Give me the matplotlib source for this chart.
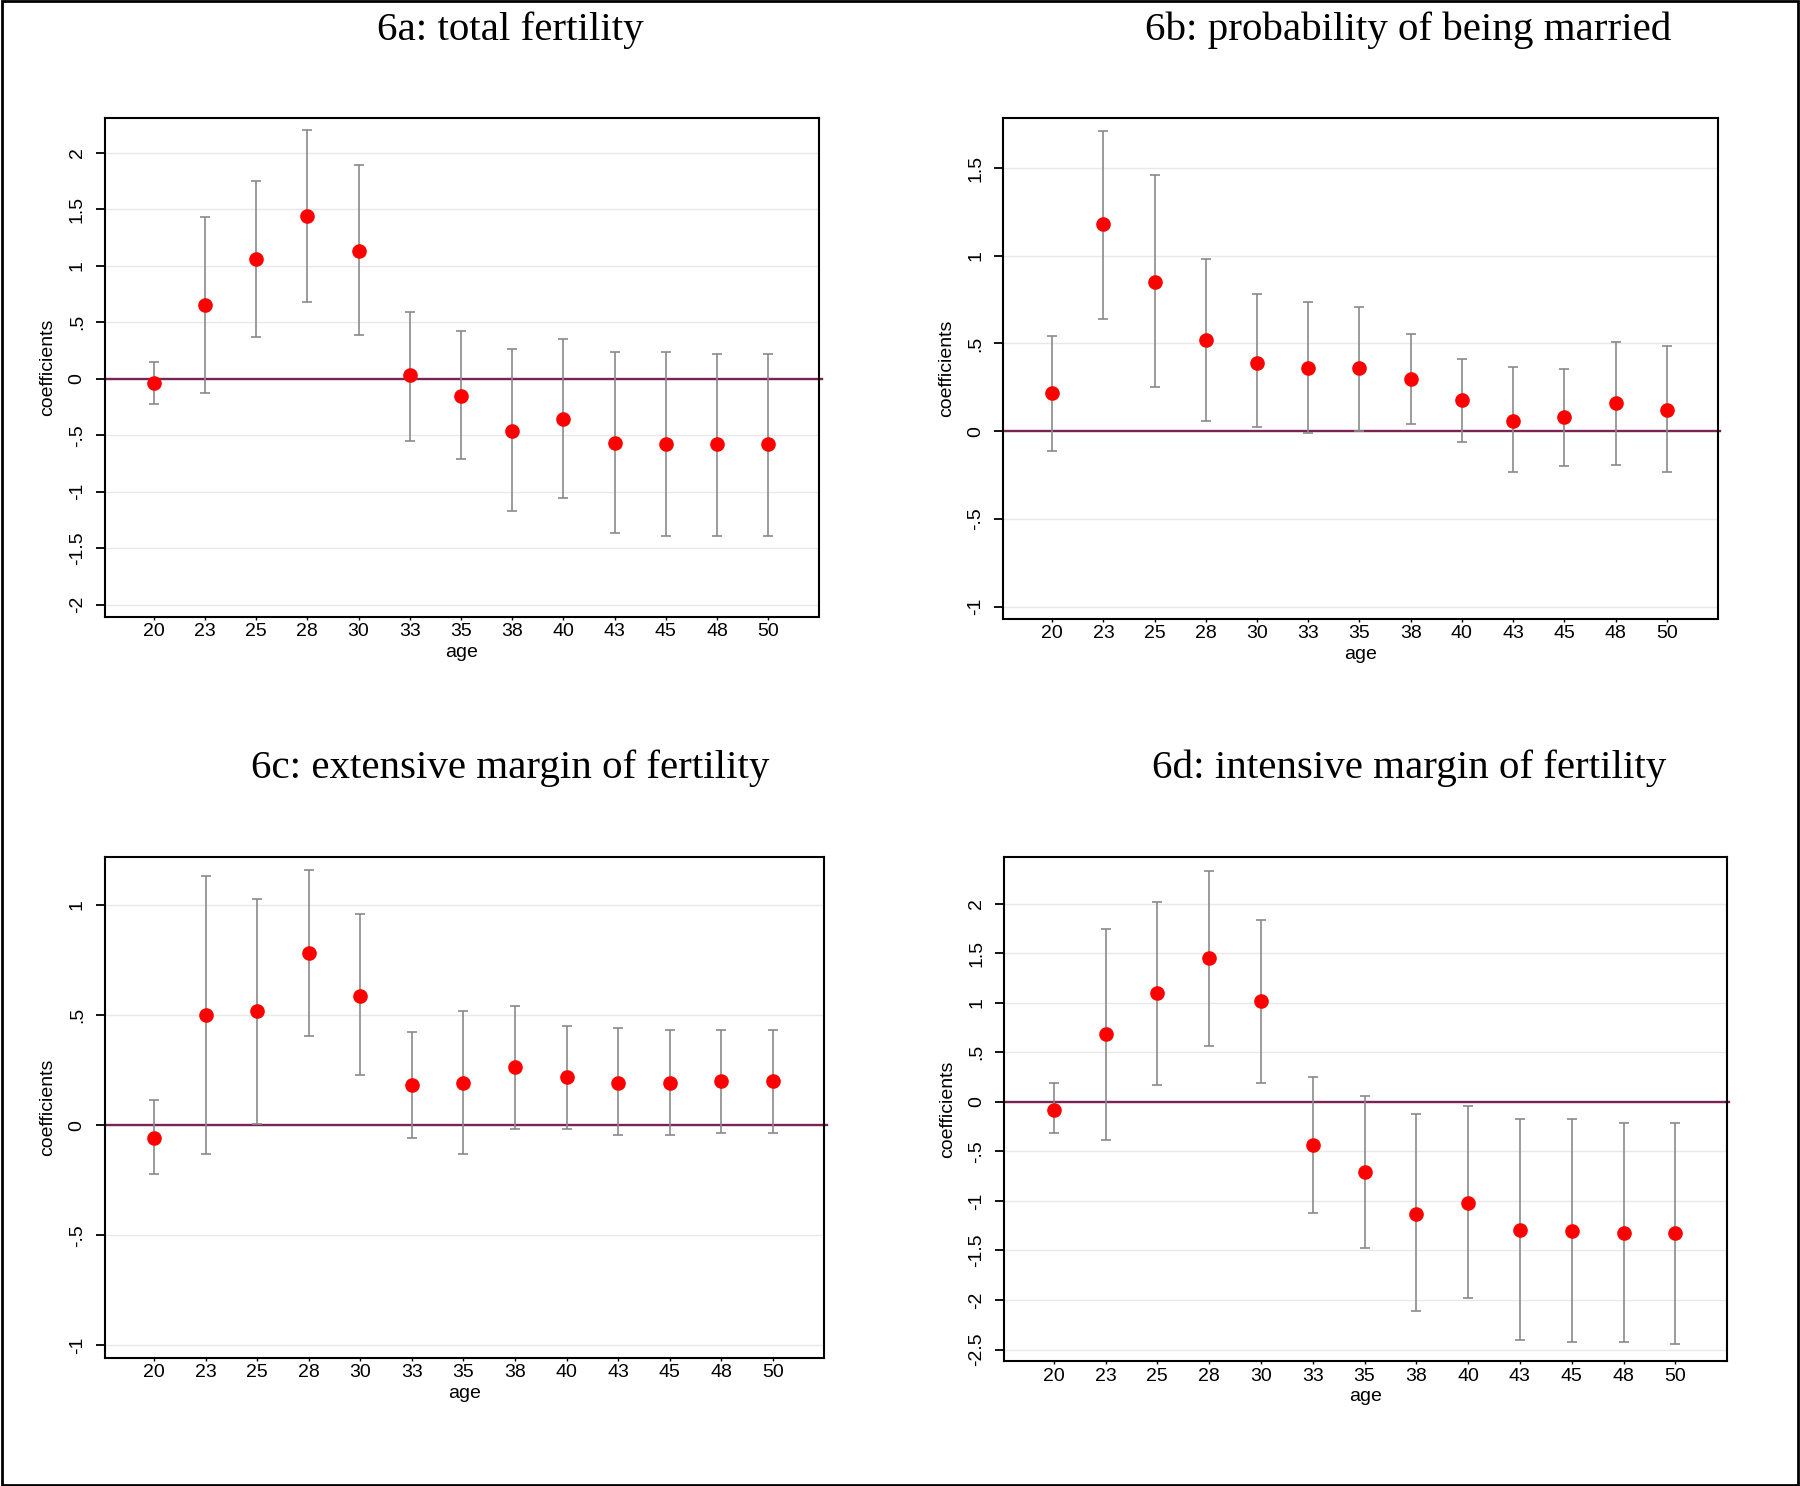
import numpy as np
import matplotlib
matplotlib.use('Agg')
import matplotlib.pyplot as plt
from matplotlib.patches import Rectangle
from matplotlib.ticker import FixedLocator, FuncFormatter

# ages on the x axis (equally spaced categories)
ages = ['20', '23', '25', '28', '30', '33', '35', '38', '40', '43', '45', '48', '50']

# 6a: total fertility
coef_a = [-0.04, 0.65, 1.06, 1.44, 1.13, 0.03, -0.15, -0.46, -0.36, -0.57, -0.58, -0.58, -0.58]
lo_a = [-0.22, -0.13, 0.37, 0.68, 0.39, -0.55, -0.71, -1.17, -1.06, -1.37, -1.39, -1.39, -1.39]
hi_a = [0.15, 1.43, 1.75, 2.20, 1.89, 0.59, 0.42, 0.26, 0.35, 0.24, 0.24, 0.22, 0.22]

# 6b: probability of being married
coef_b = [0.22, 1.18, 0.85, 0.52, 0.39, 0.36, 0.36, 0.30, 0.18, 0.06, 0.08, 0.16, 0.12]
lo_b = [-0.11, 0.64, 0.25, 0.06, 0.025, -0.01, 0.0, 0.04, -0.06, -0.23, -0.20, -0.19, -0.23]
hi_b = [0.545, 1.71, 1.46, 0.98, 0.78, 0.735, 0.71, 0.555, 0.41, 0.366, 0.356, 0.506, 0.486]

# 6c: extensive margin of fertility
coef_c = [-0.06, 0.50, 0.52, 0.78, 0.585, 0.184, 0.193, 0.264, 0.217, 0.193, 0.193, 0.20, 0.20]
lo_c = [-0.224, -0.129, 0.004, 0.404, 0.226, -0.058, -0.129, -0.016, -0.016, -0.047, -0.047, -0.035, -0.035]
hi_c = [0.113, 1.13, 1.027, 1.157, 0.96, 0.424, 0.517, 0.539, 0.452, 0.443, 0.432, 0.432, 0.432]

# 6d: intensive margin of fertility
coef_d = [-0.08, 0.685, 1.094, 1.453, 1.015, -0.438, -0.709, -1.128, -1.025, -1.296, -1.30, -1.325, -1.325]
lo_d = [-0.315, -0.384, 0.167, 0.567, 0.187, -1.118, -1.478, -2.108, -1.985, -2.404, -2.424, -2.424, -2.443]
hi_d = [0.187, 1.74, 2.015, 2.33, 1.83, 0.246, 0.054, -0.128, -0.044, -0.177, -0.177, -0.217, -0.217]

titles = ['6a: total fertility', '6b: probability of being married',
          '6c: extensive margin of fertility', '6d: intensive margin of fertility']

W, H = 1800, 1486
fig = plt.figure(figsize=(W / 100, H / 100), dpi=100)
fig.patch.set_facecolor('white')

# pixel boxes: left, top, right, bottom
boxes = [(104.5, 118, 819, 617), (1003, 118, 1717.5, 619),
         (104.5, 857, 824, 1357.5), (1004, 857, 1726.6, 1361.4)]
ylims = [(-2.11, 2.31), (-1.07, 1.785), (-1.055, 1.217), (-2.62, 2.47)]
yticks = [np.arange(-2, 2.01, 0.5), np.arange(-1, 1.51, 0.5),
          np.arange(-1, 1.01, 0.5), np.arange(-2.5, 2.01, 0.5)]
title_pos = [(510, 40), (1408, 40), (510, 778), (1409, 778)]
panels = [(coef_a, lo_a, hi_a), (coef_b, lo_b, hi_b),
          (coef_c, lo_c, hi_c), (coef_d, lo_d, hi_d)]


def stata_fmt(v, pos):
    s = ('%g' % round(v, 2))
    s = s.replace('0.', '.') if s.startswith('0.') else s.replace('-0.', '-.')
    return s


x = np.arange(len(ages))
for i, (coef, lo, hi) in enumerate(panels):
    l, t, r, b = boxes[i]
    ax = fig.add_axes([l / W, 1 - b / H, (r - l) / W, (b - t) / H])
    coef = np.array(coef)
    yerr = [coef - np.array(lo), np.array(hi) - coef]

    ax.axhline(0, color='#7a2454', lw=1.7, zorder=2, xmax=1.004, clip_on=False)
    ax.errorbar(x, coef, yerr=yerr, fmt='none', ecolor='#8a8a8a', elinewidth=1.2,
                capsize=3.5, capthick=1.2, zorder=3)
    ax.plot(x, coef, 'o', color='#ff0000', markersize=9.5, zorder=4)

    ax.set_xlim(-0.96, 12.99)
    ax.set_ylim(*ylims[i])
    ax.set_xticks(x)
    ax.set_xticklabels(ages, fontsize=14, family='Liberation Sans')
    ax.yaxis.set_major_locator(FixedLocator(yticks[i]))
    ax.yaxis.set_major_formatter(FuncFormatter(stata_fmt))
    for lab in ax.get_yticklabels():
        lab.set_rotation(90)
        lab.set_va('center')
        lab.set_fontsize(14)
        lab.set_family('Liberation Sans')
    ax.tick_params(axis='y', length=6.5, width=1.3, pad=7)
    ax.tick_params(axis='x', length=2.5, width=1, pad=2)
    ax.grid(axis='y', color='#e8e8e8', lw=1)
    ax.set_axisbelow(True)
    for sp in ax.spines.values():
        sp.set_linewidth(1.5)
        sp.set_color('black')

    ax.set_xlabel('age', fontsize=14, family='Liberation Sans')
    ax.xaxis.set_label_coords(0.5, -27 / (b - t))
    ax.set_ylabel('coefficients', fontsize=14, family='Liberation Sans')
    ax.yaxis.set_label_coords(-48 / (r - l), 0.5)

    tx, ty = title_pos[i]
    fig.text(tx / W, 1 - ty / H, titles[i], ha='center', va='baseline',
             fontsize=29.5, family='Liberation Serif')

# outer frame round the whole picture
fig.patches.append(Rectangle((0.001, 0.001), 0.998, 0.998, transform=fig.transFigure,
                             fill=False, edgecolor='black', lw=2))

fig.savefig('out.png', dpi=100)
